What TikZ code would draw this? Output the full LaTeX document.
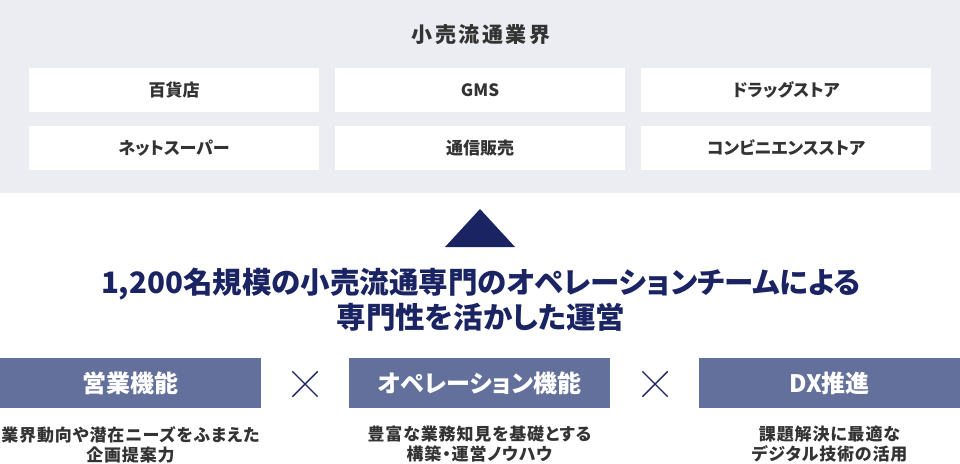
\documentclass[tikz,border=0pt]{standalone}
\usepackage{fontspec}
\setmainfont{Noto Sans CJK JP}[RawFeature=+palt]
\usepackage{xcolor}
\definecolor{Mist}{RGB}{236,237,242}
\definecolor{Ink}{RGB}{51,51,51}
\definecolor{Navy}{RGB}{27,36,99}
\definecolor{Slate}{RGB}{99,112,155}
\definecolor{White}{RGB}{255,255,255}
\usetikzlibrary{shapes.misc}

\tikzset{
	shopbox/.style={fill=White, minimum width=290pt, minimum height=44pt, inner sep=0pt, text=Ink, font=\fontsize{17}{20}\selectfont\bfseries},
	rolebox/.style={fill=Slate, minimum width=261pt, minimum height=50pt, inner sep=0pt, text=White, font=\fontsize{24}{28}\selectfont\bfseries},
	roletext/.style={align=center, inner sep=0pt, text=Ink, font=\fontsize{17}{20}\selectfont\bfseries\addfontfeatures{LetterSpace=5}},
	timesmark/.style={cross out, draw=Navy, line width=1.4pt, minimum size=24pt, inner sep=0pt}
}

\begin{document}
\begin{tikzpicture}[x=1pt, y=-1pt]

		\useasboundingbox (0,0) rectangle (960,463);

		% Background
		\fill [Mist] (0,0) rectangle (960,193);

		% Title
		\node[text=Ink, font=\fontsize{21}{24}\selectfont\bfseries\addfontfeatures{LetterSpace=12}] (industry) at (481,35) {小売流通業界};

		% Rectangle
		\node[shopbox] (dept)   at (174,90)  {百貨店};
		\node[shopbox] (gms)    at (480,90)  {GMS};
		\node[shopbox] (drug)   at (786,90)  {ドラッグストア};
		\node[shopbox] (net)    at (174,148) {ネットスーパー};
		\node[shopbox] (mail)   at (480,148) {通信販売};
		\node[shopbox] (conv)   at (786,148) {コンビニエンスストア};

		% Triangle
		\fill [Navy] (445,247) -- (480,209) -- (515,247) -- cycle;

		% Text
		\node[align=center, text=Navy, font=\fontsize{29.5}{35}\selectfont\bfseries] (team) at (481,300)
			{1,200名規模の小売流通専門のオペレーションチームによる\\専門性を活かした運営};

		% Functions
		\node[rolebox] (sales) at (130.5,383) {営業機能};
		\node[rolebox] (ops)   at (479.5,383) {オペレーション機能};
		\node[rolebox] (dx)    at (829.5,383) {DX推進};

		\node[timesmark] (times1) at (305,384) {};
		\node[timesmark] (times2) at (655,384) {};

		\node[roletext] (salesnote) at (130.5,444.5) {業界動向や潜在ニーズをふまえた\\企画提案力};
		\node[roletext] (opsnote)   at (479.5,444.5) {豊富な業務知見を基礎とする\\構築・運営ノウハウ};
		\node[roletext] (dxnote)    at (829.5,444.5) {課題解決に最適な\\デジタル技術の活用};

\end{tikzpicture}
\end{document}
